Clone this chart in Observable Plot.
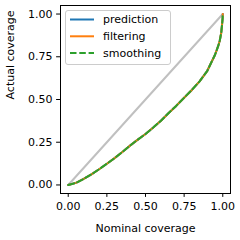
<!DOCTYPE html>
<html><head><meta charset="utf-8">
<script src="https://cdn.jsdelivr.net/npm/d3@7"></script>
<script src="https://cdn.jsdelivr.net/npm/@observablehq/plot@0.6"></script>
<style>html,body{margin:0;padding:0;background:#fff}</style>
</head><body><div id="chart"></div>
<script>
const nominal    = [0, 0.05, 0.1, 0.15, 0.2, 0.25, 0.3, 0.35, 0.4, 0.45, 0.5, 0.55, 0.6, 0.65, 0.7, 0.75, 0.8, 0.85, 0.9, 0.95, 0.97, 0.98, 0.99, 0.995, 0.999, 1.0];
const prediction = [0, 0.012, 0.035, 0.062, 0.092, 0.124, 0.157, 0.193, 0.230, 0.265, 0.298, 0.336, 0.376, 0.421, 0.464, 0.510, 0.556, 0.606, 0.668, 0.762, 0.812, 0.842, 0.890, 0.935, 0.975, 1.0];
const filtering  = [0, 0.012, 0.035, 0.062, 0.092, 0.124, 0.157, 0.193, 0.230, 0.265, 0.298, 0.336, 0.376, 0.421, 0.464, 0.510, 0.556, 0.606, 0.668, 0.762, 0.812, 0.842, 0.890, 0.935, 0.975, 1.0];
const smoothing  = [0, 0.012, 0.035, 0.062, 0.092, 0.124, 0.157, 0.193, 0.230, 0.265, 0.298, 0.336, 0.376, 0.421, 0.464, 0.510, 0.556, 0.606, 0.668, 0.762, 0.812, 0.842, 0.890, 0.935, 0.975, 1.0];
const diagonal   = [0, 1];
const ticks      = [0, 0.25, 0.5, 0.75, 1];
const tickLabels = ["0.00", "0.25", "0.50", "0.75", "1.00"];
const seriesNames  = ["prediction", "filtering", "smoothing"];
const seriesColors = ["#1f77b4", "#ff7f0e", "#2ca02c"];
const xLabel = "Nominal coverage";
const yLabel = "Actual coverage";

const rows = nominal.map((x, i) => ({x, prediction: prediction[i], filtering: filtering[i], smoothing: smoothing[i]}));
const fmt = d => tickLabels[ticks.indexOf(d)];
const LW = 2;
const DASH = "6.5,2.8";

const chart = Plot.plot({
  width: 240, height: 240,
  marginLeft: 60, marginRight: 10, marginTop: 5, marginBottom: 47,
  style: {fontFamily: "DejaVu Sans", fontSize: "11px", background: "white", color: "black"},
  x: {domain: [-0.05, 1.05]},
  y: {domain: [-0.05, 1.05]},
  marks: [
    Plot.line(diagonal, {x: d => d, y: d => d, stroke: "#c0c0c0", strokeWidth: LW}),
    Plot.line(rows, {x: "x", y: "prediction", stroke: seriesColors[0], strokeWidth: LW}),
    Plot.line(rows, {x: "x", y: "filtering", stroke: seriesColors[1], strokeWidth: LW}),
    Plot.line(rows, {x: "x", y: "smoothing", stroke: seriesColors[2], strokeWidth: LW, strokeDasharray: DASH}),
    Plot.frame({stroke: "black", strokeWidth: 1}),
    Plot.axisX(ticks, {tickSize: 3.9, tickPadding: 5, tickFormat: fmt, label: null, fontSize: 11, strokeWidth: 1}),
    Plot.axisY(ticks, {tickSize: 3.9, tickPadding: 4, tickFormat: fmt, label: null, fontSize: 11, strokeWidth: 1}),
    Plot.text([xLabel], {text: d => d, frameAnchor: "bottom", dy: 35, lineAnchor: "middle", fontSize: 11}),
    Plot.text([yLabel], {text: d => d, frameAnchor: "left", dx: -50, rotate: -90, lineAnchor: "middle", fontSize: 11})
  ]
});
document.getElementById("chart").appendChild(chart);

// legend
const svg = d3.select(chart);
const lg = svg.append("g").attr("font-family", "DejaVu Sans").attr("font-size", 11).attr("text-anchor", "start");
lg.append("rect").attr("x", 65.5).attr("y", 10.5).attr("width", 105).attr("height", 54)
  .attr("rx", 2.5).attr("fill", "white").attr("fill-opacity", 0.8).attr("stroke", "#cccccc").attr("stroke-width", 1);
seriesNames.forEach((name, i) => {
  const y = 19.5 + i * 16.8;
  const ln = lg.append("line").attr("x1", 70).attr("x2", 94).attr("y1", y).attr("y2", y)
    .attr("stroke", seriesColors[i]).attr("stroke-width", LW);
  if (i === 2) ln.attr("stroke-dasharray", DASH);
  lg.append("text").attr("x", 103).attr("y", y).attr("dy", "0.35em").attr("fill", "black")
    .attr("text-anchor", "start").text(name);
});
</script>
</body></html>
